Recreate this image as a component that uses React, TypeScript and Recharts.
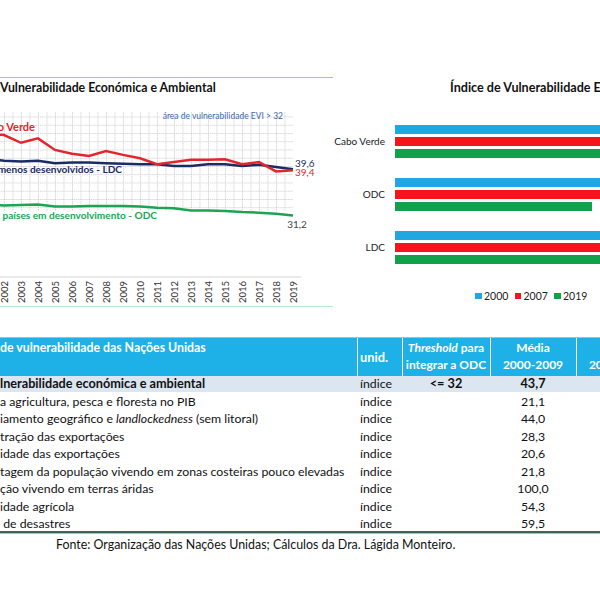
import React from 'react';
import {
  LineChart, Line, XAxis, YAxis, ReferenceArea, ReferenceDot,
  BarChart, Bar, Legend
} from 'recharts';

const FONT = "Lato, 'Noto Sans', sans-serif";

// EVI series, 2000-2019
const years = ['2000', '2001', '2002', '2003', '2004', '2005', '2006', '2007', '2008', '2009',
  '2010', '2011', '2012', '2013', '2014', '2015', '2016', '2017', '2018', '2019'];
const caboVerde = [46.3, 46.0, 45.8, 44.4, 45.2, 43.1, 42.4, 42.0, 42.9, 42.2,
  41.6, 40.5, 40.9, 41.3, 41.3, 41.4, 40.5, 40.9, 39.2, 39.4];
const ldc = [41.6, 41.4, 41.15, 41.0, 41.15, 40.7, 40.8, 40.8, 40.7, 40.6,
  40.5, 40.5, 40.2, 40.2, 40.5, 40.5, 40.2, 40.4, 40.0, 39.6];
const odc = [33.3, 33.1, 33.0, 33.1, 33.2, 32.8, 32.8, 32.9, 32.9, 32.9,
  32.8, 32.6, 32.5, 32.1, 32.1, 32.0, 31.8, 31.7, 31.5, 31.2];

// bar chart
const barGroups = ['Cabo Verde', 'ODC', 'LDC'];
const bar2000 = [46.3, 33.3, 41.6];
const bar2007 = [42.0, 32.9, 40.8];
const bar2019 = [39.4, 31.2, 39.6];

// table
const rowPrefix = ['Índice de vu', 'Participação d', 'Distanc', 'Concen', 'Instabil', 'Percen', 'Popula', 'Instabil', 'Vítimas'];
const rowLabels = [
  'lnerabilidade económica e ambiental',
  'a agricultura, pesca e floresta no PIB',
  'iamento geográfico e |landlockedness| (sem litoral)',
  'tração das exportações',
  'idade das exportações',
  'tagem da população vivendo em zonas costeiras pouco elevadas',
  'ção vivendo em terras áridas',
  'idade agrícola',
  ' de desastres',
];
const rowUnits = ['índice', 'índice', 'índice', 'índice', 'índice', 'índice', 'índice', 'índice', 'índice'];
const rowThreshold = ['<= 32', '', '', '', '', '', '', '', ''];
const rowMean = ['43,7', '21,1', '44,0', '28,3', '20,6', '21,8', '100,0', '54,3', '59,5'];

const lineData = years.map((year, i) => ({ year, cv: caboVerde[i], ldc: ldc[i], odc: odc[i] }));
const barData = barGroups.map((group, i) => ({ group, y2000: bar2000[i], y2007: bar2007[i], y2019: bar2019[i] }));

const YearTick = (props: any) => {
  const { x, y, payload } = props;
  return (
    <text x={0} y={0} transform={`translate(${x},${y}) rotate(-90)`} textAnchor="end"
      dominantBaseline="central" fontSize={9.5} fill="#333" fontFamily={FONT}>
      {payload.value}
    </text>
  );
};

// label drawn at a reference dot
const note = (text: string, color: string, anchor: string, dx: number, dy: number, size: number, weight = 700) =>
  (props: any) => {
    const vb = props.viewBox;
    return (
      <text x={vb.x + dx} y={vb.y + dy} textAnchor={anchor} fill={color} fontSize={size}
        fontWeight={weight} fontFamily={FONT}>{text}</text>
    );
  };

const renderLabel = (s: string) =>
  s.split('|').map((part, i) => (i % 2 === 1 ? <i key={i}>{part}</i> : <span key={i}>{part}</span>));

const LegendContent = (props: any) => (
  <div style={{ display: 'flex', fontFamily: FONT, fontSize: 10.5, color: '#222' }}>
    {props.payload.map((p: any) => (
      <div key={p.value} style={{ width: 39.5, display: 'flex', alignItems: 'center' }}>
        <span style={{ width: 6.5, height: 6.5, background: p.color, marginRight: 2.5, display: 'inline-block' }} />
        <span>{p.value}</span>
      </div>
    ))}
  </div>
);

const ROW_TOP = 375;
const ROW_H = 17.5;

export default function App() {
  return (
    <div style={{ position: 'absolute', left: 0, top: 0, width: 600, height: 600, overflow: 'hidden', background: '#fff', fontFamily: FONT }}>
      {/* frame lines of the line chart */}
      <div style={{ position: 'absolute', left: 0, top: 77, width: 333, height: 1, background: '#8fd39a' }} />
      <div style={{ position: 'absolute', left: 0, top: 306, width: 333, height: 1, background: '#b9e6c5' }} />

      {/* titles */}
      <div style={{ position: 'absolute', left: 0, top: 80, fontSize: 12.3, fontWeight: 700, color: '#111', whiteSpace: 'nowrap' }}>
        <span style={{ position: 'absolute', right: '100%' }}>Índice de&nbsp;</span>Vulnerabilidade Económica e Ambiental
      </div>
      <div style={{ position: 'absolute', left: 450, top: 80, fontSize: 12.6, fontWeight: 700, color: '#111', whiteSpace: 'nowrap' }}>
        Índice de Vulnerabilidade Económica e Ambiental
      </div>

      {/* line chart */}
      <div style={{ position: 'absolute', left: -40, top: 100 }}>
        <LineChart width={362} height={210} data={lineData} margin={{ top: 12, right: 20.5, left: 1.5, bottom: 0 }}>
          <defs>
            <pattern id="eviGrid" patternUnits="userSpaceOnUse" x={1.5} y={0} width={8.5} height={8.25}>
              <path d="M0 0.5 H8.5 M0.5 0 V8.25" stroke="#bdbdbd" strokeWidth={0.8} strokeDasharray="1 1" fill="none" />
            </pattern>
          </defs>
          <XAxis dataKey="year" interval={0} padding={{ left: 8.5, right: 8.5 }} height={33}
            tickLine={false} tickSize={0} tickMargin={4} axisLine={{ stroke: '#d4d4d4' }} tick={<YearTick />} />
          <YAxis hide domain={[20, 50]} />
          <ReferenceArea y1={32} y2={50} fill="url(#eviGrid)" fillOpacity={1} stroke="none" />
          <Line dataKey="odc" stroke="#1da453" strokeWidth={2.5} dot={false} isAnimationActive={false} />
          <Line dataKey="ldc" stroke="#1c2b63" strokeWidth={2.5} dot={false} isAnimationActive={false} />
          <Line dataKey="cv" stroke="#e3262d" strokeWidth={2.5} dot={false} isAnimationActive={false} />
          <ReferenceDot x="2004" y={46.5} r={0} stroke="none" fill="none" label={note('Cabo Verde', '#e3262d', 'end', -3, 0, 11)} />
          <ReferenceDot x="2009" y={38.9} r={0} stroke="none" fill="none" label={note('Países menos desenvolvidos - LDC', '#1c2b63', 'end', -1, 0, 10.1)} />
          <ReferenceDot x="2011" y={30.5} r={0} stroke="none" fill="none" label={note('Outros países em desenvolvimento - ODC', '#1da453', 'end', 0, 0, 10.1)} />
          <ReferenceDot x="2018" y={48.7} r={0} stroke="none" fill="none" label={note('área de vulnerabilidade  EVI > 32', '#3e6aa8', 'end', 7, 0, 8.5, 400)} />
          <ReferenceDot x="2019" y={39.6} r={0} stroke="none" fill="none" label={note('39,6', '#1c2b63', 'start', 2, -2, 10, 400)} />
          <ReferenceDot x="2019" y={39.4} r={0} stroke="none" fill="none" label={note('39,4', '#e3262d', 'start', 2, 6, 10, 400)} />
          <ReferenceDot x="2019" y={31.2} r={0} stroke="none" fill="none" label={note('31,2', '#444', 'middle', 4, 13, 10, 400)} />
        </LineChart>
      </div>

      {/* bar chart */}
      <div style={{ position: 'absolute', left: 300, top: 100 }}>
        <BarChart layout="vertical" width={420} height={200} data={barData}
          margin={{ top: 15, right: 9.3, left: 0, bottom: 26 }} barGap={3} barSize={9}>
          <XAxis type="number" domain={[0, 50]} hide />
          <YAxis type="category" dataKey="group" width={95} axisLine={false} tickLine={false}
            tickSize={0} tickMargin={10} tick={{ fontSize: 10, fill: '#222', fontFamily: FONT }} />
          <Bar dataKey="y2000" name="2000" fill="#1fa7e1" isAnimationActive={false} />
          <Bar dataKey="y2007" name="2007" fill="#f5141b" isAnimationActive={false} />
          <Bar dataKey="y2019" name="2019" fill="#12a14b" isAnimationActive={false} />
          <Legend verticalAlign="middle" layout="horizontal" content={<LegendContent />}
            wrapperStyle={{ position: 'absolute', left: 175, top: 190, width: 200 }} />
        </BarChart>
      </div>

      {/* table header */}
      <div style={{ position: 'absolute', left: 0, top: 337, width: 600, height: 1, background: '#8fd39a' }} />
      <div style={{ position: 'absolute', left: 0, top: 338, width: 600, height: 38, background: '#1eb1e7', color: '#fff', fontWeight: 700, fontSize: 12.3 }}>
        <div style={{ position: 'absolute', left: 0, top: 2, whiteSpace: 'nowrap' }}>
          <span style={{ position: 'absolute', right: '100%' }}>Índice&nbsp;</span>de vulnerabilidade das Nações Unidas
        </div>
        {[357, 402, 490, 576].map((x) => (
          <div key={x} style={{ position: 'absolute', left: x, top: 0, width: 1, height: 38, background: '#fff' }} />
        ))}
        <div style={{ position: 'absolute', left: 360, top: 11, fontSize: 12.8 }}>unid.</div>
        <div style={{ position: 'absolute', left: 402, width: 88, top: 2, textAlign: 'center', lineHeight: '16.5px', fontSize: 12, whiteSpace: 'nowrap' }}>
          <i>Threshold</i> para<br />integrar a ODC
        </div>
        <div style={{ position: 'absolute', left: 490, width: 86, top: 2, textAlign: 'center', lineHeight: '16.5px', fontSize: 12 }}>
          Média<br />2000-2009
        </div>
        <div style={{ position: 'absolute', left: 576, width: 86, top: 2, textAlign: 'center', lineHeight: '16.5px', fontSize: 12 }}>
          Média<br />2010-2019
        </div>
      </div>

      {/* table rows */}
      <div style={{ position: 'absolute', left: 0, top: 376, width: 600, height: 16, background: '#dce6f1' }} />
      {rowLabels.map((label, i) => {
        const bold = i === 0;
        const top = ROW_TOP + i * ROW_H;
        return (
          <div key={i} style={{ position: 'absolute', left: 0, top, width: 600, height: ROW_H, lineHeight: `${ROW_H}px`, fontSize: 12.3, color: '#111', fontWeight: bold ? 700 : 400 }}>
            <div style={{ position: 'absolute', left: 0, whiteSpace: 'pre', fontSize: bold ? 12.7 : 12.3 }}>
              <span style={{ position: 'absolute', right: '100%' }}>{rowPrefix[i]}</span>{renderLabel(label)}
            </div>
            <div style={{ position: 'absolute', left: 360, fontWeight: 400 }}>{rowUnits[i]}</div>
            <div style={{ position: 'absolute', left: 402, width: 88, textAlign: 'center', fontSize: bold ? 12.7 : 12.3 }}>{rowThreshold[i]}</div>
            <div style={{ position: 'absolute', left: 490, width: 86, textAlign: 'center', fontSize: bold ? 12.7 : 12.3 }}>{rowMean[i]}</div>
          </div>
        );
      })}
      <div style={{ position: 'absolute', left: 0, top: 531, width: 600, height: 2, background: '#3b6650' }} />
      <div style={{ position: 'absolute', left: 0, top: 533, width: 600, height: 1, background: '#8fd39a' }} />

      <div style={{ position: 'absolute', left: 56, top: 537, fontSize: 12.4, color: '#111', whiteSpace: 'nowrap' }}>
        Fonte: Organização das Nações Unidas; Cálculos da Dra. Lágida Monteiro.
      </div>
    </div>
  );
}
